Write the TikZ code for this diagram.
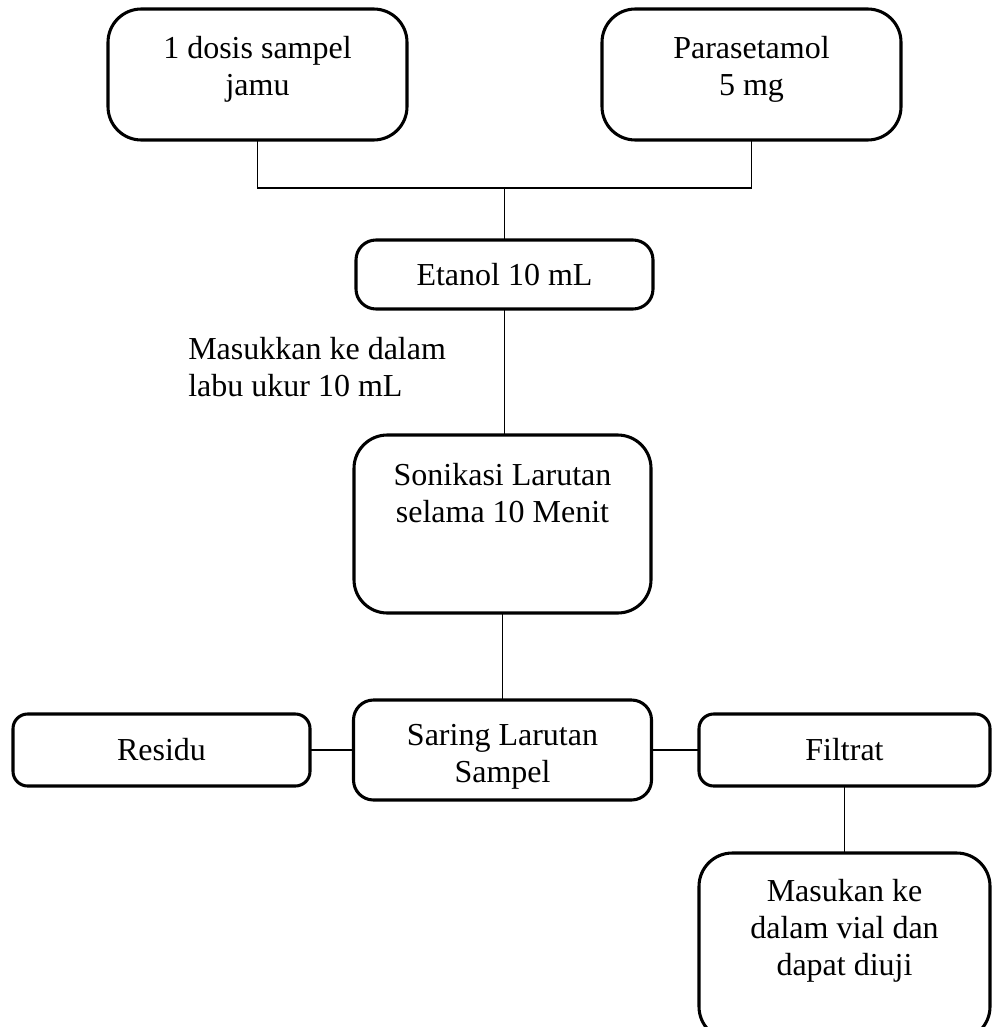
\documentclass[tikz,border=0pt]{standalone}
\usepackage{fontspec}
\setmainfont{Liberation Serif}
\begin{document}
\begin{tikzpicture}[x=0.75pt,y=-0.75pt,
  box/.style={draw=black,line width=2.3pt,inner sep=0pt,outer sep=0pt},
  conn/.style={draw=black,line width=1.1pt},
  txt/.style={font=\fontsize{24pt}{27.75pt}\selectfont,align=center,inner sep=0pt}]
\useasboundingbox (0,0) rectangle (992,1027);
\clip (0,0) rectangle (992,1027);
% boxes
\node[box,rounded corners=25pt,minimum width=299*0.75pt,minimum height=131*0.75pt] (b1) at (257.5,74.5) {};
\node[box,rounded corners=25pt,minimum width=299*0.75pt,minimum height=131*0.75pt] (b2) at (751.5,74.5) {};
\node[box,rounded corners=15pt,minimum width=297*0.75pt,minimum height=69*0.75pt] (b3) at (504.5,274.5) {};
\node[box,rounded corners=25pt,minimum width=297*0.75pt,minimum height=178*0.75pt] (b4) at (502.5,524) {};
\node[box,rounded corners=15pt,minimum width=298*0.75pt,minimum height=100*0.75pt] (b5) at (502.5,750) {};
\node[box,rounded corners=11pt,minimum width=297*0.75pt,minimum height=72*0.75pt] (r) at (161.5,750) {};
\node[box,rounded corners=11pt,minimum width=291*0.75pt,minimum height=72*0.75pt] (f) at (844.5,750) {};
\node[box,rounded corners=25pt,minimum width=291*0.75pt,minimum height=187*0.75pt] (v) at (844.5,946.5) {};
% texts (anchor=base is the baseline of the last line)
\node[txt,anchor=base] (t1) at (257.5,96) {1 dosis sampel\\jamu};
\node[txt,anchor=base] (t2) at (751.5,96) {Parasetamol\\5 mg};
\node[txt,anchor=base] (t3) at (504.5,285) {Etanol 10 mL};
\node[txt,anchor=base west,align=left] (t4) at (188,396) {Masukkan ke dalam\\labu ukur 10 mL};
\node[txt,anchor=base] (t5) at (502.5,522) {Sonikasi Larutan\\selama 10 Menit};
\node[txt,anchor=base] (t6) at (502.5,782) {Saring Larutan\\Sampel};
\node[txt,anchor=base] (t7) at (161.5,760) {Residu};
\node[txt,anchor=base] (t8) at (844.5,760) {Filtrat};
\node[txt,anchor=base] (t9) at (844.5,975) {Masukan ke\\dalam vial dan\\dapat diuji};
% connectors
\coordinate (m) at (504.5,188);
\draw[conn] (b1.south) |- (m) -| (b2.south);
\draw[conn] (m) -- (b3.north);
\draw[conn] (b3.south) -- (b3.south |- b4.north);
\draw[conn] (b4.south) -- (b5.north);
\draw[conn] (r.east) -- (b5.west);
\draw[conn] (b5.east) -- (f.west);
\draw[conn] (f.south) -- (v.north);
\end{tikzpicture}
\end{document}
